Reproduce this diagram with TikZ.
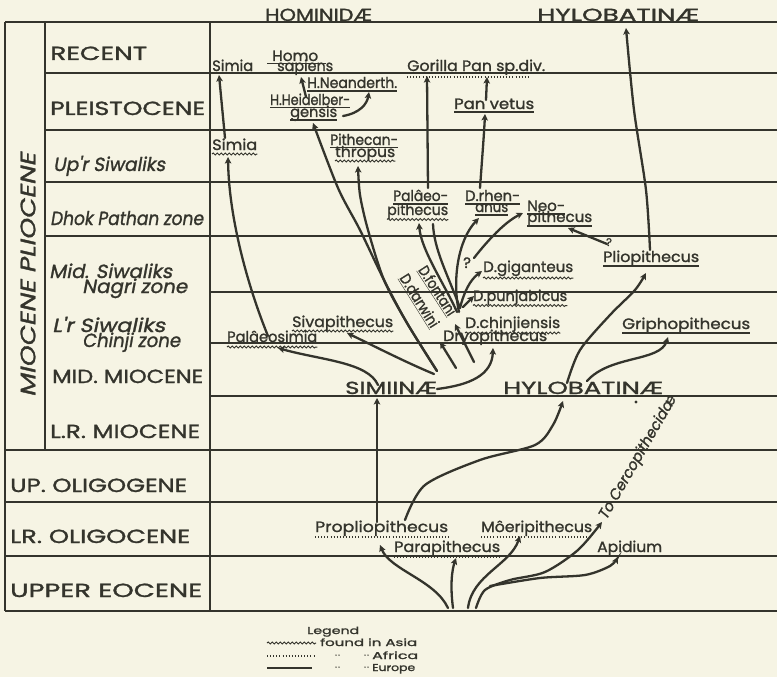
\documentclass[tikz,border=0pt]{standalone}
\usepackage{fontspec}
\usepackage{graphicx}
\usetikzlibrary{arrows.meta,decorations.pathmorphing,calc}
\newfontfamily\pop[FakeBold=1.3]{Poppins}
\newfontfamily\popit[FakeSlant=0.18,FakeBold=1.3]{Poppins}
\definecolor{bg}{RGB}{246,244,228}
\definecolor{ink}{RGB}{52,52,44}
\newcommand\W[2]{\resizebox{#1pt}{\height}{#2}}
\newcommand\ul[3][eur]{\draw[#1] ($(#2.base west)+(0,#3)$) -- ($(#2.base east)+(0,#3)$);}
\tikzset{
  lbl/.style={inner sep=0pt, anchor=base west, text=ink},
  capl/.style={lbl, font=\pop\fontsize{19}{19}\selectfont},
  itl/.style={lbl, font=\popit\fontsize{19}{19}\selectfont},
  hdr/.style={lbl, font=\pop\fontsize{17.5}{17.5}\selectfont},
  sp/.style={lbl, font=\pop\fontsize{15}{15}\selectfont},
  spit/.style={lbl, font=\popit\fontsize{15}{15}\selectfont},
  leg/.style={lbl, font=\pop\fontsize{10}{10}\selectfont},
  grid/.style={line width=1.4pt, draw=ink},
  link/.style={line width=2.3pt, draw=ink, line cap=round, -{Stealth[length=6.5pt,width=6.5pt,inset=1.5pt]}},
  plain/.style={line width=2.3pt, draw=ink, line cap=round},
  eur/.style={line width=1.1pt, draw=ink},
  afr/.style={line width=1.3pt, draw=ink, dash pattern=on 0.9pt off 2.2pt},
  asia/.style={line width=1pt, draw=ink, decorate, decoration={snake, amplitude=1pt, segment length=4pt}},
  dit/.style={fill=ink},
}
\begin{document}
\begin{tikzpicture}[x=1pt,y=-1pt]
\fill[bg] (0,0) rectangle (777,677);
\useasboundingbox (0,0) rectangle (777,677);
% table
\draw[grid] (5,22) -- (777,22);
\foreach \yy in {73,130,182,236} {\draw[grid] (45,\yy) -- (777,\yy);}
\foreach \yy in {292,343,396} {\draw[grid] (210,\yy) -- (777,\yy);}
\foreach \yy in {450,502,556,611} {\draw[grid] (5,\yy) -- (777,\yy);}
\draw[grid] (5,22) -- (5,611);
\draw[grid] (45,22) -- (45,450);
\draw[grid] (210,22) -- (210,611);
% label column
\node[capl] (rec) at (50,60) {\W{97}{RECENT}};
\node[capl] (ple) at (50,115) {\W{155}{PLEISTOCENE}};
\node[itl] (upr) at (53,171) {\W{112}{Up'r Siwaliks}};
\node[itl] (dho) at (50,225) {\W{153}{Dhok Pathan zone}};
\node[itl] (mid) at (49,278) {\W{123}{Mid. Siwaliks}};
\node[itl] (nag) at (82,293) {\W{105}{Nagri zone}};
\node[itl] (lrs) at (52,332) {\W{113}{L'r Siwaliks}};
\node[itl] (chi) at (82,347) {\W{98}{Chinji zone}};
\node[capl] (mmi) at (52,383) {\W{151}{MID. MIOCENE}};
\node[capl] (lmi) at (50,438) {\W{150}{L.R. MIOCENE}};
\node[capl] (uol) at (10,492) {\W{177}{UP. OLIGOGENE}};
\node[capl] (lol) at (10,543) {\W{180}{LR. OLIGOCENE}};
\node[capl] (uec) at (10,597) {\W{192}{UPPER EOCENE}};
\node[itl, font=\popit\fontsize{21}{21}\selectfont, anchor=center, rotate=90] (mp) at (28,275) {\W{244}{MIOCENE PLIOCENE}};
% headers
\node[hdr] (hom) at (265,21) {\W{107}{HOMINIDÆ}};
\node[hdr] (hyt) at (537,21) {\W{162}{HYLOBATINÆ}};
\node[hdr] (sim) at (345,394) {\W{92}{SIMIINÆ}};
\node[hdr] (hyl) at (503,394) {\W{160}{HYLOBATINÆ}};
% species
\node[sp] (sia) at (212,71) {\W{41}{Simia}};
\node[sp] (hom1) at (272,61) {\W{46}{Homo}};
\draw[eur] (267,63.5) -- (326,63.5);
\node[sp] (sap) at (277,71) {\W{56}{sapiens}};
\node[sp] (nea) at (307,88) {\W{90}{H.Neanderth.}}; \ul{nea}{3}
\node[sp] (hei) at (270,105) {\W{80}{H.Heidelber-}}; \ul{hei}{2.5}
\node[sp] (gen) at (290,117) {\W{47}{gensis}}; \ul{gen}{3}
\node[sp] (gor) at (407,71) {\W{138}{Gorilla Pan sp.div.}}; \draw[afr] (407,77) -- (530,77);
\node[sp] (pve) at (454,109) {\W{80}{Pan vetus}}; \ul{pve}{3}
\node[sp] (sib) at (212,150) {\W{45}{Simia}}; \ul[asia]{sib}{4}
\node[sp] (pit1) at (330,145) {\W{68}{Pithecan-}}; \ul{pit1}{2.5}
\node[sp] (pit2) at (335,157) {\W{60}{thropus}}; \ul[asia]{pit2}{4}
\node[sp] (pal1) at (393,201) {\W{55}{Pal\^aeo-}}; \ul{pal1}{3}
\node[sp] (pal2) at (387,215) {\W{61}{pithecus}}; \ul[asia]{pal2}{4.5}
\node[sp] (rhe1) at (465,201) {\W{55}{D.rhen-}}; \ul{rhe1}{3}
\node[sp] (rhe2) at (475,212) {\W{33}{anus}}; \ul{rhe2}{3}
\node[sp] (neo1) at (527,211) {\W{38}{Neo-}}; \ul{neo1}{3}
\node[sp] (neo2) at (527,222) {\W{65}{pithecus}}; \ul{neo2}{4}
\node[sp] (gig) at (483,272) {\W{90}{D.giganteus}}; \ul[asia]{gig}{6}
\node[sp] (pun) at (473,301) {\W{94}{D.punjabicus}}; \ul[asia]{pun}{4.5}
\node[sp] (chj) at (465,328) {\W{95}{D.chinjiensis}}; \ul[asia]{chj}{5}
\node[sp] (dry) at (443,341) {\W{104}{Dryopithecus}};
\node[sp] (siv) at (292,327) {\W{101}{Sivapithecus}}; \ul[asia]{siv}{4}
\node[sp] (pas) at (227,342) {\W{90}{Pal\^aeosimia}}; \ul[asia]{pas}{5}
\node[sp] (pli) at (603,262) {\W{96}{Pliopithecus}}; \ul{pli}{4}
\node[sp] (gri) at (622,329) {\W{128}{Griphopithecus}}; \ul{gri}{4}
\node[sp] (ppl) at (315,532) {\W{133}{Propliopithecus}}; \ul[afr]{ppl}{5}
\node[sp] (moe) at (481,532) {\W{111}{M\^oeripithecus}}; \ul[afr]{moe}{5}
\node[sp] (par) at (394,552) {\W{106}{Parapithecus}}; \ul[afr]{par}{5}
\node[sp] (api) at (597,552) {\W{65}{Apidium}}; \ul[afr]{api}{4}
\node[sp, anchor=center, rotate=-57] (fon) at (437,291) {\underline{\W{56}{D.fontani}}};
\node[sp, anchor=center, rotate=-58] (dar) at (419,301) {\underline{\W{60}{D.darwini}}};
\node[spit, anchor=center, rotate=60] (cer) at (638,458) {\W{140}{To Cercopithecidæ}};
\node[sp] (q1) at (463,268) {?};
\node[sp, font=\pop\fontsize{11}{11}\selectfont] (q2) at (606,246) {?};
\fill[ink] (636,402) circle (1.7pt);
% connectors
\draw[link] (225,138) -- (219,75);
\draw[link] (268,336) .. controls (250,292) and (229,222) .. (228,157);
\draw[link] (306,97) -- (301,77);
\draw[link] (343,116) .. controls (360,113) and (367,104) .. (369,92);
\draw[link] (428,188) -- (427,76);
\draw[link] (486,100) -- (487,77);
\draw[link] (480,188) .. controls (482,160) and (484,135) .. (485,114);
\draw[link] plot[smooth] coordinates {(650,250) (646,190) (634,110) (626,28)};
\draw[link] (607,244) -- (568,228);
\draw[link] (457,312) .. controls (445,285) and (421,250) .. (419,223);
\draw[plain] (460,308) .. controls (448,275) and (434,250) .. (433,224);
\draw[link] (459,312) .. controls (452,280) and (458,240) .. (479,218);
\draw[link] (460,308) .. controls (464,292) and (470,280) .. (482,271);
\draw[link] (463,307) -- (474,296);
\draw[link] (474,258) .. controls (488,240) and (505,222) .. (523,213);
\draw[link] (378,385) .. controls (368,362) and (320,360) .. (278,348);
\draw[link] (434,374) .. controls (405,362) and (372,345) .. (347,333);
\draw[link] plot[smooth] coordinates {(437,371) (407,323) (384,280) (368,230) (360,195) (358,166)};
\draw[link] plot[smooth] coordinates {(437,371) (407,323) (384,280) (360,230) (338,188) (313,123)};
\draw[link] (456,368) -- (440,342);
\draw[link] (474,362) -- (455,324);
\draw[link] (437,389) .. controls (470,385) and (492,375) .. (493,348);
\draw[link] (377,522) -- (377,398);
\draw[link] plot[smooth] coordinates {(405,520) (425,485) (480,460) (535,445) (553,425) (563,401)};
\draw[link] plot[smooth] coordinates {(567,383) (580,350) (610,315) (635,290) (646,273)};
\draw[link] (587,381) .. controls (610,355) and (660,362) .. (668,337);
\draw[link] (448,608) .. controls (435,580) and (390,570) .. (380,545);
\draw[link] (453,608) .. controls (450,585) and (452,570) .. (456,558);
\draw[link] (468,608) .. controls (472,575) and (510,565) .. (520,536);
\draw[link] plot[smooth] coordinates {(476,608) (485,590) (510,580) (545,572) (578,550) (602,522)};
\draw[link] plot[smooth] coordinates {(490,586) (540,578) (585,575) (610,566) (618,557)};
% legend
\node[leg] (lg) at (307,634) {\W{52}{Legend}};
\draw[asia] (267,643) -- (316,643);
\node[leg] (la) at (320,646) {\W{97}{found in Asia}};
\draw[afr] (267,656) -- (315,656);
\foreach \yy in {655,667} {
  \foreach \xx in {336,339,365,368} {\fill[dit] (\xx,\yy) circle (0.75pt);}
}
\node[leg] (lafr) at (372,659) {\W{46}{Africa}};
\draw[eur] (267,668) -- (312,668);
\node[leg] (leur) at (372,671) {\W{43}{Europe}};
\end{tikzpicture}
\end{document}
